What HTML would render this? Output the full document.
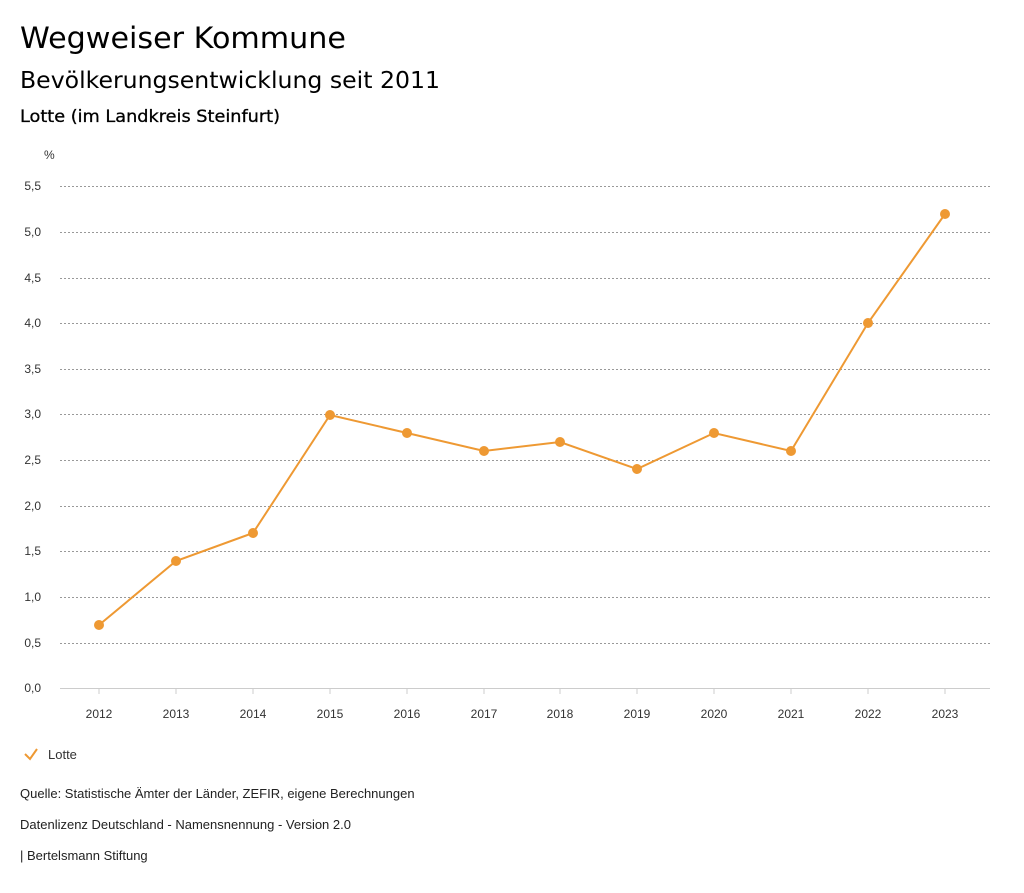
<!DOCTYPE html>
<html><head><meta charset="utf-8"><style>
body{margin:0;background:#fff;font-family:"Liberation Sans","DejaVu Sans",sans-serif;color:#000}
</style></head><body>
<svg width="1024" height="888" xmlns="http://www.w3.org/2000/svg" font-family="Liberation Sans, DejaVu Sans, sans-serif">
<text x="20" y="48" font-size="29" font-family="DejaVu Sans, sans-serif" textLength="326" lengthAdjust="spacingAndGlyphs">Wegweiser Kommune</text>
<text x="20" y="88" font-size="23" font-family="DejaVu Sans, sans-serif" textLength="420" lengthAdjust="spacingAndGlyphs">Bevölkerungsentwicklung seit 2011</text>
<text x="20" y="122" font-size="17" font-family="DejaVu Sans, sans-serif" stroke="#000" stroke-width="0.3" textLength="260" lengthAdjust="spacingAndGlyphs">Lotte (im Landkreis Steinfurt)</text>
<text x="44" y="159" font-size="12" fill="#333">%</text>
<g stroke="#999" stroke-dasharray="2,2" stroke-width="1">
<line x1="60" x2="990" y1="186.5" y2="186.5"/><line x1="60" x2="990" y1="232.5" y2="232.5"/>
<line x1="60" x2="990" y1="278.5" y2="278.5"/><line x1="60" x2="990" y1="323.5" y2="323.5"/>
<line x1="60" x2="990" y1="369.5" y2="369.5"/><line x1="60" x2="990" y1="414.5" y2="414.5"/>
<line x1="60" x2="990" y1="460.5" y2="460.5"/><line x1="60" x2="990" y1="506.5" y2="506.5"/>
<line x1="60" x2="990" y1="551.5" y2="551.5"/><line x1="60" x2="990" y1="597.5" y2="597.5"/>
<line x1="60" x2="990" y1="643.5" y2="643.5"/>
</g>
<line x1="60" x2="990" y1="688.5" y2="688.5" stroke="#ccc"/>
<g font-size="12" fill="#333" text-anchor="end">
<text x="41" y="190">5,5</text><text x="41" y="236">5,0</text><text x="41" y="282">4,5</text>
<text x="41" y="327">4,0</text><text x="41" y="373">3,5</text><text x="41" y="418">3,0</text>
<text x="41" y="464">2,5</text><text x="41" y="510">2,0</text><text x="41" y="555">1,5</text>
<text x="41" y="601">1,0</text><text x="41" y="647">0,5</text><text x="41" y="692">0,0</text>
</g>
<g font-size="12" fill="#333" text-anchor="middle">
<text x="99" y="718">2012</text><text x="176" y="718">2013</text><text x="253" y="718">2014</text>
<text x="330" y="718">2015</text><text x="407" y="718">2016</text><text x="484" y="718">2017</text>
<text x="560" y="718">2018</text><text x="637" y="718">2019</text><text x="714" y="718">2020</text>
<text x="791" y="718">2021</text><text x="868" y="718">2022</text><text x="945" y="718">2023</text>
</g>
<g stroke="#ccc"><line x1="99" x2="99" y1="688" y2="694"/><line x1="176" x2="176" y1="688" y2="694"/><line x1="253" x2="253" y1="688" y2="694"/><line x1="330" x2="330" y1="688" y2="694"/><line x1="407" x2="407" y1="688" y2="694"/><line x1="484" x2="484" y1="688" y2="694"/><line x1="560" x2="560" y1="688" y2="694"/><line x1="637" x2="637" y1="688" y2="694"/><line x1="714" x2="714" y1="688" y2="694"/><line x1="791" x2="791" y1="688" y2="694"/><line x1="868" x2="868" y1="688" y2="694"/><line x1="945" x2="945" y1="688" y2="694"/></g>
<polyline fill="none" stroke="#ee9933" stroke-width="2" points="99,625 176,561 253,533 330,415 407,433 484,451 560,442 637,469 714,433 791,451 868,323 945,214"/>
<g fill="#ee9933">
<circle cx="99" cy="625" r="5"/><circle cx="176" cy="561" r="5"/><circle cx="253" cy="533" r="5"/>
<circle cx="330" cy="415" r="5"/><circle cx="407" cy="433" r="5"/><circle cx="484" cy="451" r="5"/>
<circle cx="560" cy="442" r="5"/><circle cx="637" cy="469" r="5"/><circle cx="714" cy="433" r="5"/>
<circle cx="791" cy="451" r="5"/><circle cx="868" cy="323" r="5"/><circle cx="945" cy="214" r="5"/>
</g>
<polyline points="25,754 30,759 37,749" fill="none" stroke="#ee9933" stroke-width="2"/>
<text x="48" y="759" font-size="13" fill="#333">Lotte</text>
<g font-size="13" fill="#222">
<text x="20" y="798">Quelle: Statistische Ämter der Länder, ZEFIR, eigene Berechnungen</text>
<text x="20" y="829">Datenlizenz Deutschland - Namensnennung - Version 2.0</text>
<text x="20" y="860">| Bertelsmann Stiftung</text>
</g>
</svg>
</body></html>
